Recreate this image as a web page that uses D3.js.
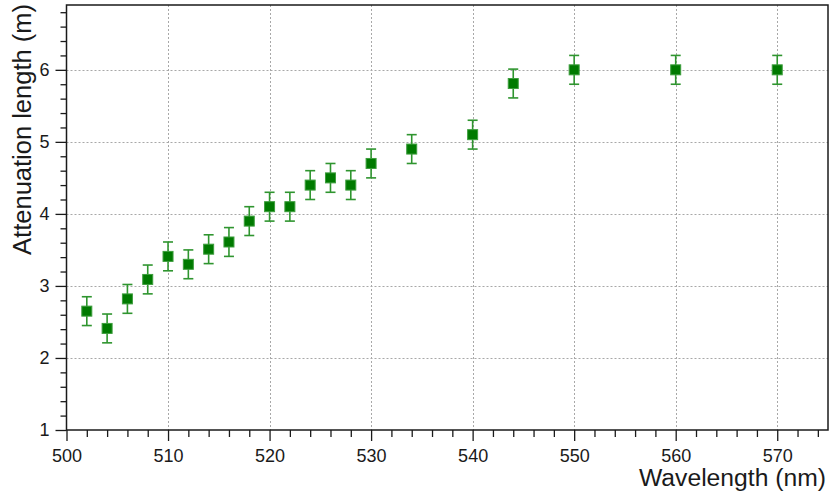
<!DOCTYPE html>
<html>
<head>
<meta charset="utf-8">
<script src="https://cdn.jsdelivr.net/npm/d3@7"></script>
<style>
  html, body { margin: 0; padding: 0; background: #fff; }
  svg { display: block; font-family: "Liberation Sans", Arial, sans-serif; }
</style>
</head>
<body>
<svg id="chart" width="830" height="495"></svg>
<script>
// ---- data ----
const wavelengths = [502, 504, 506, 508, 510, 512, 514, 516, 518, 520, 522, 524, 526, 528, 530, 534, 540, 544, 550, 560, 570];
const attenuation = [2.65, 2.41, 2.82, 3.09, 3.41, 3.30, 3.51, 3.61, 3.90, 4.10, 4.10, 4.40, 4.50, 4.40, 4.70, 4.90, 5.10, 5.81, 6.00, 6.00, 6.00];
const errors      = [0.20, 0.20, 0.20, 0.20, 0.20, 0.20, 0.20, 0.20, 0.20, 0.20, 0.20, 0.20, 0.20, 0.20, 0.20, 0.20, 0.20, 0.20, 0.20, 0.20, 0.20];
const xTicks = [500, 510, 520, 530, 540, 550, 560, 570];
const yTicks = [1, 2, 3, 4, 5, 6];
const xLabel = "Wavelength (nm)";
const yLabel = "Attenuation length (m)";

// ---- layout ----
const svg = d3.select("#chart");
const L = 66.5, R = 828, T = 5, B = 430;
const x = d3.scaleLinear().domain([500, 575]).range([L, R]);
const y = d3.scaleLinear().domain([1, 6.9]).range([B, T]);

const xMinor = d3.range(500, 575.01, 2).filter(v => !xTicks.includes(v));
const yMinor = d3.range(1, 6.91, 0.2).map(v => +v.toFixed(1)).filter(v => !yTicks.includes(v));

// grid
const grid = svg.append("g").attr("stroke", "#a8a8a8").attr("stroke-width", 1).attr("stroke-dasharray", "2,2");
grid.selectAll(".gx").data(xTicks.filter(v => v > 500)).join("line")
  .attr("x1", d => Math.round(x(d)) + 0.5).attr("x2", d => Math.round(x(d)) + 0.5)
  .attr("y1", T).attr("y2", B);
grid.selectAll(".gy").data(yTicks.filter(v => v > 1)).join("line")
  .attr("y1", d => Math.round(y(d)) + 0.5).attr("y2", d => Math.round(y(d)) + 0.5)
  .attr("x1", L).attr("x2", R);

// axes
const xAxis = d3.axisBottom(x).tickValues(xTicks).tickSize(11).tickPadding(8).tickFormat(d3.format("d"));
const xAxisMinor = d3.axisBottom(x).tickValues(xMinor).tickSize(7).tickFormat("");
const yAxis = d3.axisLeft(y).tickValues(yTicks).tickSize(11).tickPadding(6).tickFormat(d3.format("d"));
const yAxisMinor = d3.axisLeft(y).tickValues(yMinor).tickSize(6).tickFormat("");

function styleAxis(g) {
  g.select(".domain").remove();
  g.selectAll("line").attr("stroke", "#1a1a1a").attr("stroke-width", 1.3);
  g.selectAll("text").attr("fill", "#1a1a1a").style("font-size", "18px");
}
svg.append("g").attr("transform", `translate(0,${B})`).call(xAxis).call(styleAxis)
  .attr("font-family", null);
svg.append("g").attr("transform", `translate(0,${B})`).call(xAxisMinor).call(styleAxis);
svg.append("g").attr("transform", `translate(${L},0)`).call(yAxis).call(styleAxis)
  .attr("font-family", null);
svg.append("g").attr("transform", `translate(${L},0)`).call(yAxisMinor).call(styleAxis);

// frame
svg.append("rect").attr("x", L).attr("y", T).attr("width", R - L).attr("height", B - T)
  .attr("fill", "none").attr("stroke", "#1a1a1a").attr("stroke-width", 1.5);

// data
const pts = wavelengths.map((w, i) => ({ w, v: attenuation[i], e: errors[i] }));
const eb = svg.append("g").attr("stroke", "#2f952f").attr("stroke-width", 1.6).attr("fill", "none");
eb.selectAll(".v").data(pts).join("line")
  .attr("x1", d => x(d.w)).attr("x2", d => x(d.w))
  .attr("y1", d => y(d.v - d.e)).attr("y2", d => y(d.v + d.e));
eb.selectAll(".t").data(pts).join("line")
  .attr("x1", d => x(d.w) - 5).attr("x2", d => x(d.w) + 5)
  .attr("y1", d => y(d.v + d.e)).attr("y2", d => y(d.v + d.e));
eb.selectAll(".b").data(pts).join("line")
  .attr("x1", d => x(d.w) - 5).attr("x2", d => x(d.w) + 5)
  .attr("y1", d => y(d.v - d.e)).attr("y2", d => y(d.v - d.e));

svg.append("g").selectAll("rect").data(pts).join("rect")
  .attr("x", d => x(d.w) - 5).attr("y", d => y(d.v) - 5)
  .attr("width", 10).attr("height", 10)
  .attr("fill", "#007a00").attr("stroke", "#3d9e3d").attr("stroke-width", 1);

// axis titles
svg.append("text").attr("x", R - 2).attr("y", 486).attr("text-anchor", "end")
  .attr("fill", "#1a1a1a").style("font-size", "24.7px").text(xLabel);
svg.append("text").attr("transform", `translate(31,4) rotate(-90)`).attr("text-anchor", "end")
  .attr("fill", "#1a1a1a").style("font-size", "25.5px").text(yLabel);
</script>
</body>
</html>
